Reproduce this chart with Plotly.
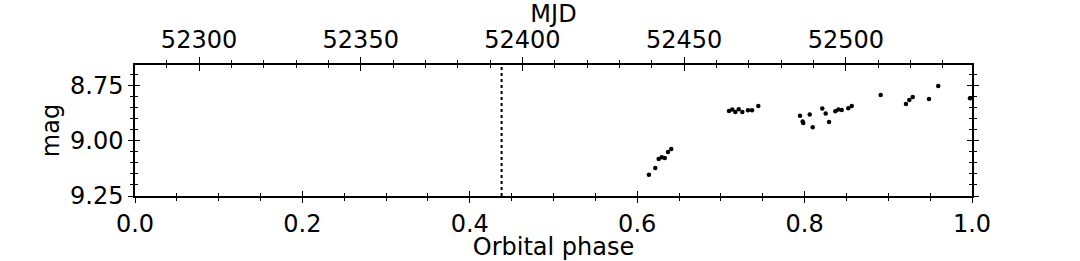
import plotly.graph_objects as go

# Data
phase = [0.614, 0.6216, 0.6257, 0.6293, 0.6329, 0.6368, 0.6407,
         0.7097, 0.7136, 0.7172, 0.7213, 0.7256, 0.7324, 0.7372, 0.7447,
         0.7945, 0.7977, 0.7984, 0.8061, 0.8097, 0.8211, 0.8252, 0.8292,
         0.8367, 0.8403, 0.8443, 0.8522, 0.8563, 0.8909, 0.9211, 0.9251,
         0.9292, 0.9486, 0.9597, 0.9976]
mag = [9.153, 9.123, 9.082, 9.074, 9.077, 9.050, 9.036,
       8.864, 8.857, 8.868, 8.856, 8.868, 8.860, 8.860, 8.841,
       8.885, 8.912, 8.918, 8.880, 8.938, 8.853, 8.875, 8.914,
       8.865, 8.857, 8.859, 8.851, 8.841, 8.791, 8.832, 8.814,
       8.800, 8.809, 8.750, 8.806]
marker_phase = 0.438
mjd_range = [52280.2, 52539.0]
phase_range = [0.0, 1.0]
mag_range = [9.25, 8.655]

FONT = "DejaVu Sans"
FS = 24
TC = "black"

fig = go.Figure()
fig.add_trace(go.Scatter(x=phase, y=mag, mode="markers",
                         marker=dict(color="black", size=4.5),
                         xaxis="x", yaxis="y", showlegend=False,
                         hoverinfo="skip"))
fig.add_trace(go.Scatter(x=[marker_phase, marker_phase], y=mag_range, mode="lines",
                         line=dict(color="black", width=2, dash="dot"),
                         xaxis="x", yaxis="y", showlegend=False,
                         hoverinfo="skip"))
# empty traces so helper axes exist
fig.add_trace(go.Scatter(x=[], y=[], xaxis="x2", yaxis="y", showlegend=False))
fig.add_trace(go.Scatter(x=[], y=[], xaxis="x3", yaxis="y2", showlegend=False))
fig.add_trace(go.Scatter(x=[], y=[], xaxis="x4", yaxis="y2", showlegend=False))

common = dict(showgrid=False, zeroline=False, showline=True, linecolor="black",
              linewidth=1.5, tickcolor="black", tickwidth=1.2, automargin=False,
              tickfont=dict(family=FONT, size=FS, color=TC))

fig.update_layout(
    width=1080, height=261,
    margin=dict(l=135, r=108, t=65, b=65, pad=0),
    paper_bgcolor="white", plot_bgcolor="white",
    font=dict(family=FONT, size=FS, color=TC),
    xaxis=dict(**common, range=phase_range, side="bottom", ticks="outside",
               dtick=0.2, tick0=0, tickformat=".1f", ticklen=5,
               minor=dict(dtick=0.05, tick0=0, ticks="outside", ticklen=3,
                          tickcolor="black", tickwidth=1),
               title=dict(text="Orbital phase", standoff=0,
                          font=dict(family=FONT, size=FS))),
    xaxis3=dict(**common, range=phase_range, side="bottom", ticks="inside",
                overlaying="x", anchor="y2", matches="x",
                dtick=0.2, tick0=0, ticklen=5, showticklabels=False,
                minor=dict(dtick=0.05, tick0=0, ticks="inside", ticklen=3,
                           tickcolor="black", tickwidth=1)),
    xaxis2=dict(**common, range=mjd_range, side="top", overlaying="x",
                anchor="y", ticks="outside", dtick=50, tick0=52300, ticklen=6,
                tickformat="d",
                minor=dict(dtick=10, tick0=52300, ticks="outside", ticklen=3,
                           tickcolor="black", tickwidth=1),
                title=dict(text="MJD", standoff=8,
                           font=dict(family=FONT, size=FS))),
    xaxis4=dict(**common, range=mjd_range, side="top", overlaying="x",
                anchor="y2", matches="x2", ticks="inside", dtick=50,
                tick0=52300, ticklen=6, showticklabels=False,
                minor=dict(dtick=10, tick0=52300, ticks="inside", ticklen=3,
                           tickcolor="black", tickwidth=1)),
    yaxis=dict(**common, range=mag_range, side="left", ticks="outside",
               mirror="ticks", dtick=0.25, tick0=8.75, tickformat=".2f",
               ticklen=5,
               minor=dict(dtick=0.05, tick0=8.75, ticks="outside", ticklen=3,
                          tickcolor="black", tickwidth=1),
               title=dict(text="mag", standoff=4,
                          font=dict(family=FONT, size=FS))),
    yaxis2=dict(**common, range=mag_range, side="left", overlaying="y",
                anchor="x3", matches="y", ticks="inside", mirror="ticks",
                dtick=0.25, tick0=8.75, ticklen=5, showticklabels=False,
                minor=dict(dtick=0.05, tick0=8.75, ticks="inside", ticklen=3,
                           tickcolor="black", tickwidth=1)),
)

fig.write_html("out.html",
               config={"displayModeBar": False},
               post_script="document.body.style.margin='0';")
